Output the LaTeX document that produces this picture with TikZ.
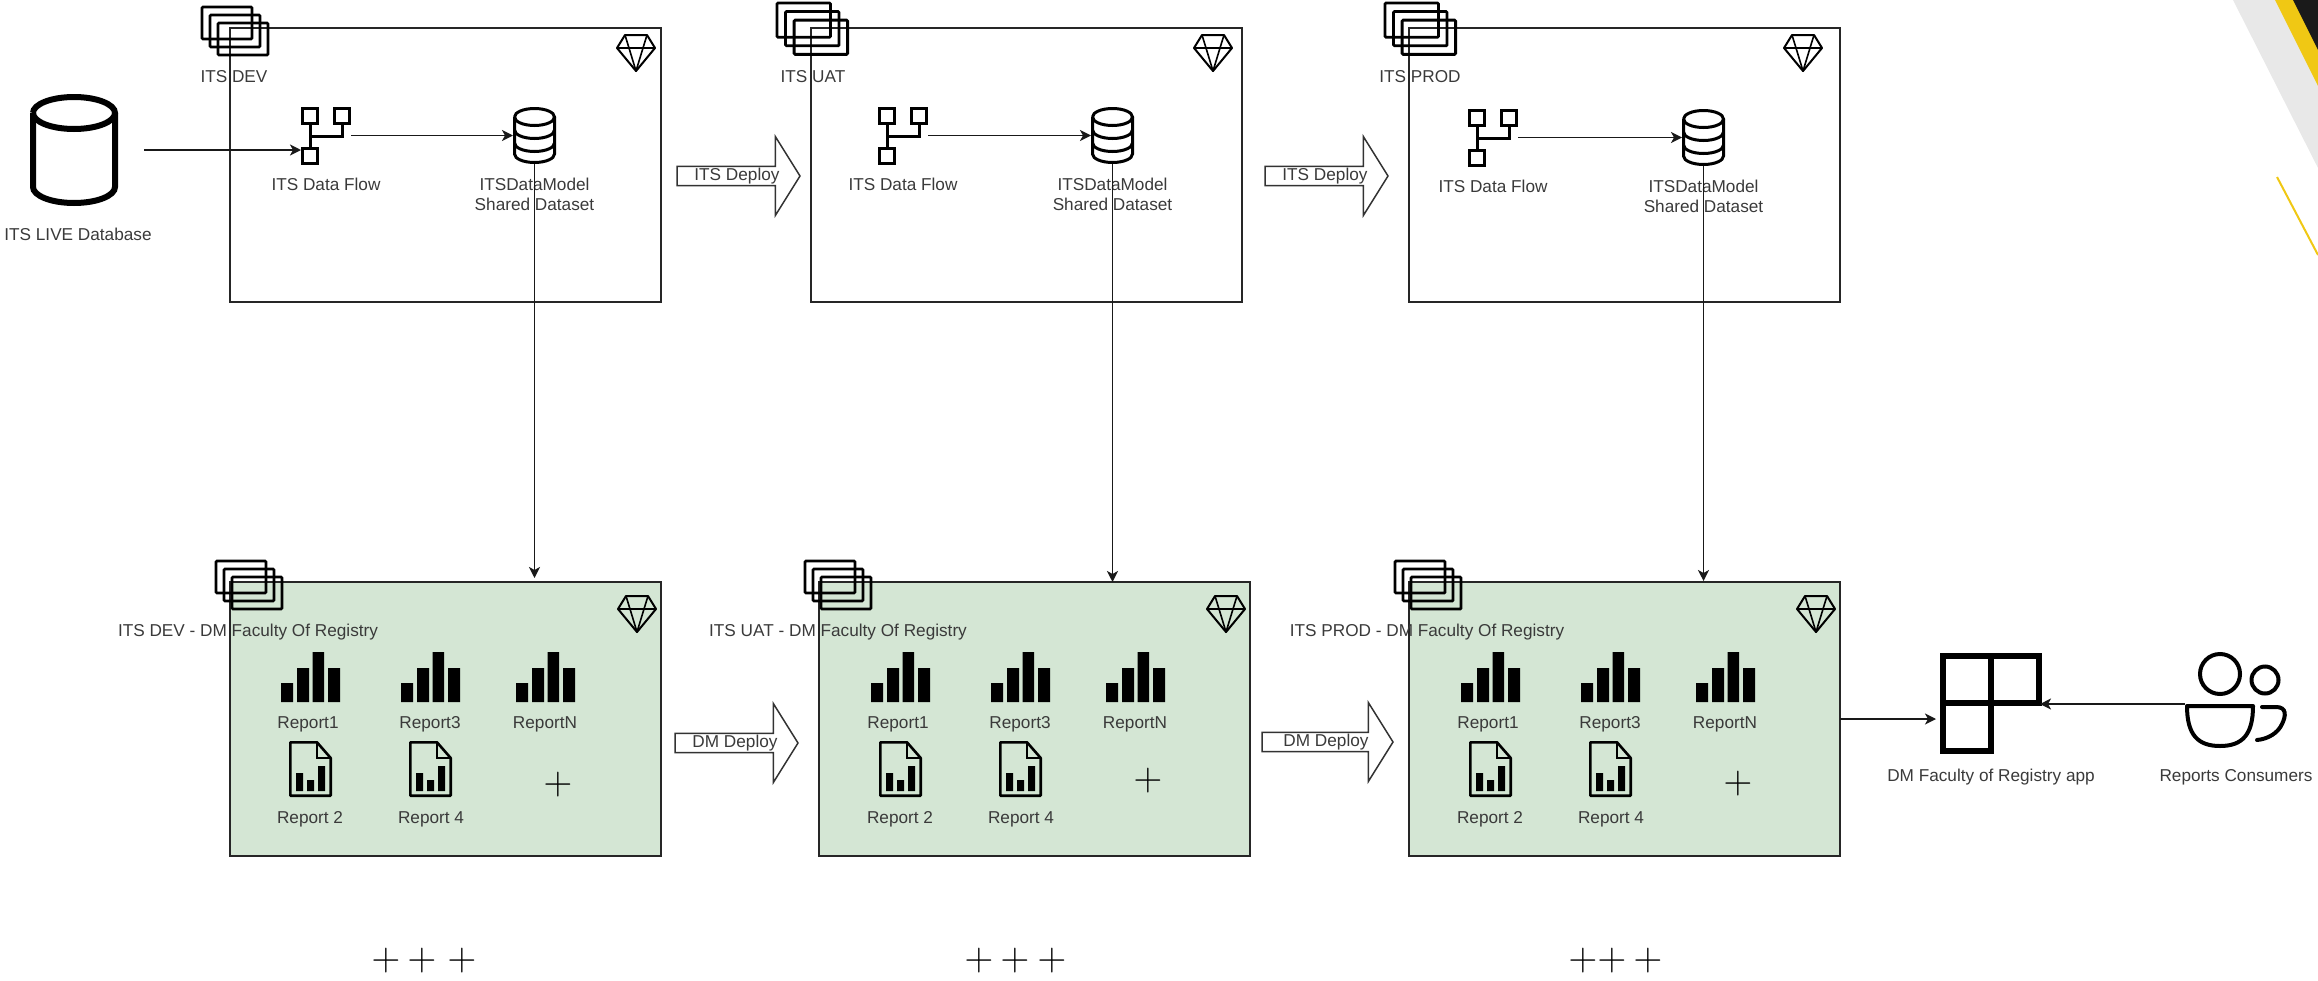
\documentclass[tikz,border=0pt]{standalone}
\usepackage{fontspec}
\setmainfont{Liberation Sans}
\usetikzlibrary{calc, positioning, arrows.meta, shapes.arrows}

\definecolor{inkgray}{HTML}{3A3A3A}
\definecolor{boxgreen}{HTML}{D4E6D4}
\definecolor{cornergold}{HTML}{F0C814}
\definecolor{cornergray}{HTML}{E8E8E8}
\definecolor{cornerdark}{HTML}{1A1A1A}

\tikzset{
    lbl/.style={font=\fontsize{17.2}{20}\selectfont, text=inkgray, inner sep=0pt, align=center},
    plusmark/.style={font=\fontsize{37}{40}\selectfont, text=black, inner sep=0pt, scale=1.6},
    envbox/.style={draw=black!85, line width=1.5pt, minimum width=431pt, minimum height=274pt,
        inner sep=0pt, outer sep=0pt, anchor=north west},
    iconspot/.style n args={2}{minimum width=#1pt, minimum height=#2pt, inner sep=0pt, outer sep=0pt,
        anchor=north west},
    conn/.style={draw=black!90, line width=1.8pt, -{Stealth[length=11pt,width=11pt,inset=3pt]}},
    deployarrow/.style={shape=single arrow, draw=black!80, fill=white, line width=1.5pt, anchor=tip,
        font=\fontsize{17.2}{20}\selectfont, text=inkgray,
        minimum width=79pt, single arrow head extend=27pt, single arrow tip angle=116,
        inner sep=0pt, outer sep=0pt},
    pics/stackicon/.style={code={
        \foreach \k in {0,1,2} {
            \draw[line width=2.8pt, rounded corners=1pt] (\k*8,\k*8) rectangle ++(50,32);
        }
    }},
    pics/gemicon/.style={code={
        \draw[line width=2pt, line join=round] (8,0) -- (30,0) -- (38,13) -- (19,36) -- (0,13) -- cycle;
        \draw[line width=1.6pt, line join=round] (0,13) -- (38,13) (8,0) -- (12,13) -- (19,36) -- (26,13) -- (30,0);
    }},
    pics/flowicon/.style={code={
        \draw[line width=3pt] (1.5,1.5) rectangle (16.5,16.5) (33.5,1.5) rectangle (48.5,16.5)
            (1.5,41.5) rectangle (16.5,56.5);
        \draw[line width=3pt] (9,16.5) -- (9,41.5) (41,16.5) -- (41,29.5) -- (9,29.5);
    }},
    pics/dataicon/.style={code={
        \draw[line width=3pt] (1.5,10) arc[start angle=180, end angle=-180, x radius=20pt, y radius=8.5pt];
        \draw[line width=3pt] (1.5,10) -- (1.5,47) arc[start angle=180, end angle=360, x radius=20pt, y radius=8.5pt]
            -- (41.5,10);
        \draw[line width=3pt] (1.5,23) arc[start angle=180, end angle=360, x radius=20pt, y radius=8.5pt];
        \draw[line width=3pt] (1.5,36) arc[start angle=180, end angle=360, x radius=20pt, y radius=8.5pt];
    }},
    pics/barsicon/.style={code={
        \fill[black] (0,50) rectangle (12,31) (16,50) rectangle (28,16) (31.5,50) rectangle (43,0)
            (47,50) rectangle (59,16);
    }},
    pics/docicon/.style={code={
        \draw[line width=2.6pt, line join=round] (1.3,1.3) -- (28,1.3) -- (41.7,17) -- (41.7,54.7) -- (1.3,54.7) -- cycle;
        \draw[line width=2pt] (28,1.3) -- (28,17) -- (41.7,17);
        \fill[black] (7,50) rectangle (14,32) (18,50) rectangle (25,39) (29,50) rectangle (36,25);
    }}
}

\begin{document}
\begin{tikzpicture}[x=1pt, y=-1pt]
    \useasboundingbox (0,0) rectangle (2318,980);

    % 1. corner decoration
    \fill[cornergray] (2233,0) -- (2318,0) -- (2318,168) -- cycle;
    \fill[cornergold] (2275,0) -- (2318,0) -- (2318,86) -- cycle;
    \fill[cornerdark] (2293,0) -- (2318,0) -- (2318,50) -- cycle;
    \draw[cornergold, line width=2pt] (2277,177) -- (2318,255);

    % 2. live database
    \node[iconspot={88}{112}] (liveDb) at (30,94) {};
    \draw[line width=6pt] (liveDb.north west) ++(3,19) arc[start angle=180, end angle=-180, x radius=41pt, y radius=16pt];
    \draw[line width=6pt] (liveDb.north west) ++(3,19) -- ++(0,74) arc[start angle=180, end angle=360, x radius=41pt, y radius=16pt] -- ++(0,-74);
    \node[lbl] (liveLbl) at (78,234) {ITS LIVE Database};

    % 3. top row of workspaces
    \foreach \c/\boxx/\stackx/\stacky/\stacks/\namex/\flowx/\datax/\icony/\gemx/\envname in {
        1/230/202/7/1/234/301/513/107/617/ITS DEV,
        2/811/777/3/1.07/813/878/1091/107/1194/ITS UAT,
        3/1409/1385/3/1.07/1420/1468/1682/109/1784/ITS PROD} {
        \node[envbox] (itsBox\c) at (\boxx,28) {};
        \pic[scale=\stacks] at (\stackx,\stacky) {stackicon};
        \node[lbl] (itsName\c) at (\namex,77) {\envname};
        \pic at (\gemx,35) {gemicon};
        \node[iconspot={50}{57}] (flow\c) at (\flowx,\icony) {};
        \pic at (flow\c.north west) {flowicon};
        \node[lbl] (flowLbl\c) at (\flowx+25,\icony+77) {ITS Data Flow};
        \node[iconspot={43}{57}] (data\c) at (\datax,\icony) {};
        \pic at (data\c.north west) {dataicon};
        \node[lbl] (dataLbl\c) at (\datax+21.5,\icony+87) {ITSDataModel\\Shared Dataset};
    }

    % 4. bottom row of report workspaces
    \foreach \c/\boxx/\stackx/\rowx/\namex/\addy/\envname in {
        1/230/216/281/248/785/ITS DEV,
        2/819/805/871/838/781/ITS UAT,
        3/1409/1395/1461/1427/784/ITS PROD} {
        \node[envbox, fill=boxgreen] (repBox\c) at (\boxx,582) {};
        \pic at (\stackx,561) {stackicon};
        \node[lbl] (repName\c) at (\namex,632) {\envname{} - DM Faculty Of Registry};
        \pic at (\boxx+388,596) {gemicon};
        \foreach \n/\dx/\lx/\rname in {a/0/27/Report1, b/120/149/Report3, c/235/264/ReportN} {
            \node[iconspot={59}{50}] (bars\c\n) at (\rowx+\dx,652) {};
            \pic at (bars\c\n.north west) {barsicon};
            \node[lbl] (barsLbl\c\n) at (\rowx+\lx,724) {\rname};
        }
        \foreach \n/\dx/\lx/\rname in {d/8/29/Report 2, e/128/150/Report 4} {
            \node[iconspot={43}{56}] (doc\c\n) at (\rowx+\dx,741) {};
            \pic at (doc\c\n.north west) {docicon};
            \node[lbl] (docLbl\c\n) at (\rowx+\lx,819) {\rname};
        }
        \node[plusmark] (addMore\c) at (\rowx+277,\addy) {$+$};
    }

    % 5. plus marks under the rows
    \foreach \n/\px in {a/386, b/422, c/462, d/979, e/1015, f/1052, g/1583, h/1612, i/1648} {
        \node[plusmark] (more\n) at (\px,961) {$+$};
    }

    % 6. deploy arrows
    \node[deployarrow, minimum height=123pt] (itsDeploy1) at (800,176) {\raisebox{-1.5pt}{\hspace{3pt}ITS Deploy}};
    \node[deployarrow, minimum height=123pt] (itsDeploy2) at (1388,176) {\raisebox{-1.5pt}{\hspace{3pt}ITS Deploy}};
    \node[deployarrow, minimum height=123pt] (dmDeploy1) at (798,743) {\raisebox{-1.5pt}{\hspace{3pt}DM Deploy}};
    \node[deployarrow, minimum height=131pt] (dmDeploy2) at (1393,742) {\raisebox{-1.5pt}{\hspace{3pt}DM Deploy}};

    % 7. app and consumers
    \node[iconspot={102}{101}] (dmApp) at (1940,653) {};
    \draw[line width=6pt, miter limit=4] (1943,656) -- (2039,656) -- (2039,703) -- (1991,703) -- (1991,751) -- (1943,751) -- cycle
        (1943,703) -- (1991,703) -- (1991,656);
    \node[lbl] (dmAppLbl) at (1991,777) {DM Faculty of Registry app};
    \node[iconspot={103}{102}] (consumers) at (2185,653) {};
    \draw[line width=4pt] (2220,674) circle[radius=20pt] (2265,680) circle[radius=13.5pt];
    \draw[line width=4pt, line join=round] (2187,706) -- (2253,706) .. controls (2253,735) and (2242,746) .. (2220,746)
        .. controls (2198,746) and (2187,735) .. (2187,706) -- cycle;
    \draw[line width=4pt, line cap=round] (2262,707) -- (2276,707) .. controls (2287,707) and (2286,716) .. (2282,724)
        .. controls (2278,733) and (2268,739) .. (2257,740);
    \node[lbl] (consumersLbl) at (2236,777) {Reports Consumers};

    % 8. connectors
    \draw[conn, shorten <=26pt] (liveDb.east) -- (liveDb.east -| flow1.west);
    \foreach \c/\gap in {1/4, 2/0, 3/1} {
        \draw[conn] (flow\c) -- (data\c);
        \draw[conn, shorten >=\gap pt] (data\c.south) -- (data\c.south |- repBox\c.north);
    }
    \draw[conn, shorten >=4pt] (repBox3.east) -- (repBox3.east -| dmApp.west);
    \draw[conn, shorten >=-2pt] (consumers.west) -- (consumers.west -| dmApp.east);

\end{tikzpicture}
\end{document}
